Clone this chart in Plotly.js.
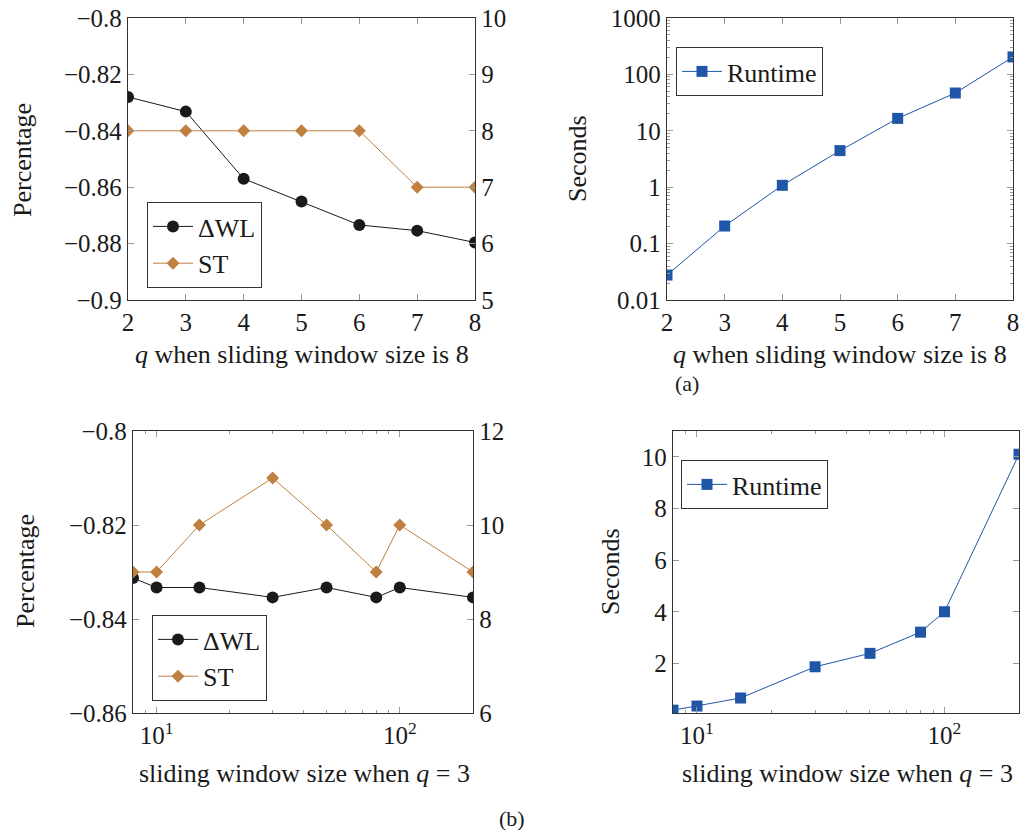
<!DOCTYPE html>
<html>
<head>
<meta charset="utf-8">
<script src="https://cdn.plot.ly/plotly-3.0.1.min.js"></script>
<style>html,body{margin:0;padding:0;background:#fff;}#chart{width:1026px;height:831px;}</style>
</head>
<body>
<div id="chart"></div>
<script>
// ---- data ----
const qValues = [2, 3, 4, 5, 6, 7, 8];
const wlByQ = [-0.828, -0.8332, -0.857, -0.8651, -0.8734, -0.8754, -0.8796];
const stByQ = [8, 8, 8, 8, 8, 7, 7];
const runtimeByQ = [0.0277, 0.205, 1.08, 4.45, 16.6, 46.8, 204];

const windowSizes = [8, 10, 15, 30, 50, 80, 100, 200];
const wlByWindow = [-0.8313, -0.8333, -0.8333, -0.8354, -0.8333, -0.8354, -0.8333, -0.8354];
const stByWindow = [9, 9, 10, 11, 10, 9, 10, 9];
const runtimeByWindow = [0.19, 0.35, 0.66, 1.87, 2.39, 3.21, 4.0, 10.1];

const logTickVals = [10, 100];
const logTickText = ['10<sup>1</sup>', '10<sup>2</sup>'];
const logMinorVals = [8, 9, 20, 30, 40, 50, 60, 70, 80, 90, 200];
const runtimeLogTicks = [0.01, 0.1, 1, 10, 100, 1000];
const runtimeLogText = ['0.01', '0.1', '1', '10', '100', '1000'];
const runtimeLogMinor = [];
[0.01, 0.1, 1, 10, 100].forEach(d => { for (let k = 2; k <= 9; k++) runtimeLogMinor.push(d * k); });

// ---- styling ----
const W = 1026, H = 831;
const FONT = 'Liberation Serif';
const TXT = '#1a1a1a';
const BLACK = '#1a1a1a';
const BROWN = '#bf8040';
const BLUE = '#1f56a8';
const px = v => v / W;
const py = v => 1 - v / H;

const traces = [
  {x: qValues, y: wlByQ, name: '\u0394WL', xaxis: 'x', yaxis: 'y', legend: 'legend',
   mode: 'lines+markers', line: {color: BLACK, width: 1}, marker: {symbol: 'circle', size: 12, color: BLACK}},
  {x: qValues, y: stByQ, name: 'ST', xaxis: 'x', yaxis: 'y2', legend: 'legend',
   mode: 'lines+markers', line: {color: BROWN, width: 1}, marker: {symbol: 'diamond', size: 10, color: BROWN}},
  {x: qValues, y: runtimeByQ, name: 'Runtime', xaxis: 'x2', yaxis: 'y3', legend: 'legend2',
   mode: 'lines+markers', line: {color: BLUE, width: 1}, marker: {symbol: 'square', size: 11, color: BLUE}},
  {x: windowSizes, y: wlByWindow, name: '\u0394WL', xaxis: 'x3', yaxis: 'y4', legend: 'legend3',
   mode: 'lines+markers', line: {color: BLACK, width: 1}, marker: {symbol: 'circle', size: 12, color: BLACK}},
  {x: windowSizes, y: stByWindow, name: 'ST', xaxis: 'x3', yaxis: 'y5', legend: 'legend3',
   mode: 'lines+markers', line: {color: BROWN, width: 1}, marker: {symbol: 'diamond', size: 10, color: BROWN}},
  {x: windowSizes, y: runtimeByWindow, name: 'Runtime', xaxis: 'x4', yaxis: 'y6', legend: 'legend4',
   mode: 'lines+markers', line: {color: BLUE, width: 1}, marker: {symbol: 'square', size: 11, color: BLUE}}
];

const tickFont = {family: FONT, size: 25, color: TXT};
function ax(extra) {
  return Object.assign({
    showgrid: false, zeroline: false, showline: true, linecolor: '#333', linewidth: 1.2,
    ticks: 'inside', ticklen: 6, tickcolor: '#999', tickwidth: 1,
    tickfont: tickFont, mirror: 'ticks', fixedrange: true
  }, extra);
}

const topY = [py(300), py(18)];
const botY = [py(713), py(431)];

const legendBase = {
  font: {family: FONT, size: 26, color: TXT}, bgcolor: '#fff', bordercolor: '#333', borderwidth: 1,
  xref: 'paper', yref: 'paper', xanchor: 'left', yanchor: 'top', tracegroupgap: 0, itemwidth: 40
};

const layout = {
  width: W, height: H, margin: {l: 0, r: 0, t: 0, b: 0},
  paper_bgcolor: '#fff', plot_bgcolor: '#fff', showlegend: true,
  font: {family: FONT, color: TXT},
  // top-left
  xaxis: ax({domain: [px(128), px(475)], anchor: 'y', range: [2, 8], tickvals: qValues}),
  yaxis: ax({domain: topY, anchor: 'x', range: [-0.9, -0.8], tickvals: [-0.9, -0.88, -0.86, -0.84, -0.82, -0.8], mirror: true}),
  yaxis2: ax({domain: topY, anchor: 'x', overlaying: 'y', side: 'right', range: [5, 10], tickvals: [5, 6, 7, 8, 9, 10], mirror: false}),
  // top-right
  xaxis2: ax({domain: [px(667), px(1013)], anchor: 'y3', range: [2, 8], tickvals: qValues}),
  yaxis3: ax({domain: topY, anchor: 'x2', type: 'log', range: [-2, 3], tickvals: runtimeLogTicks, ticktext: runtimeLogText,
    minor: {ticks: 'inside', ticklen: 3, tickcolor: '#999', tickvals: runtimeLogMinor}}),
  // bottom-left
  xaxis3: ax({domain: [px(133), px(473)], anchor: 'y4', type: 'log', range: [Math.log10(8), Math.log10(200)],
    tickvals: logTickVals, ticktext: logTickText, minor: {ticks: 'inside', ticklen: 3, tickcolor: '#999', tickvals: logMinorVals}}),
  yaxis4: ax({domain: botY, anchor: 'x3', range: [-0.86, -0.8], tickvals: [-0.86, -0.84, -0.82, -0.8], mirror: true}),
  yaxis5: ax({domain: botY, anchor: 'x3', overlaying: 'y4', side: 'right', range: [6, 12], tickvals: [6, 8, 10, 12], mirror: false}),
  // bottom-right
  xaxis4: ax({domain: [px(673), px(1019)], anchor: 'y6', type: 'log', range: [Math.log10(8), Math.log10(200)],
    tickvals: logTickVals, ticktext: logTickText, minor: {ticks: 'inside', ticklen: 3, tickcolor: '#999', tickvals: logMinorVals}}),
  yaxis6: ax({domain: botY, anchor: 'x4', range: [0.08, 11], tickvals: [2, 4, 6, 8, 10]}),
  legend: Object.assign({}, legendBase, {x: px(147), y: py(202)}),
  legend2: Object.assign({}, legendBase, {x: px(676), y: py(47)}),
  legend3: Object.assign({}, legendBase, {x: px(152), y: py(615)}),
  legend4: Object.assign({}, legendBase, {x: px(681), y: py(460)}),
  annotations: [
    {text: 'Percentage', x: px(22), y: py(160), textangle: -90},
    {text: 'Seconds', x: px(577), y: py(159), textangle: -90},
    {text: 'Percentage', x: px(25), y: py(571), textangle: -90},
    {text: 'Seconds', x: px(610), y: py(572), textangle: -90},
    {text: '<i>q</i> when sliding window size is 8', x: px(302), y: py(355)},
    {text: '<i>q</i> when sliding window size is 8', x: px(840), y: py(355)},
    {text: 'sliding window size when <i>q</i> = 3', x: px(304), y: py(773)},
    {text: 'sliding window size when <i>q</i> = 3', x: px(847), y: py(773)},
    {text: '(a)', x: px(687), y: py(383), font: {family: FONT, size: 22, color: TXT}},
    {text: '(b)', x: px(512), y: py(818), font: {family: FONT, size: 22, color: TXT}}
  ].map(a => Object.assign({xref: 'paper', yref: 'paper', showarrow: false, xanchor: 'center', yanchor: 'middle',
    font: {family: FONT, size: 26, color: TXT}}, a))
};

Plotly.newPlot('chart', traces, layout, {staticPlot: true, displayModeBar: false});
</script>
</body>
</html>
